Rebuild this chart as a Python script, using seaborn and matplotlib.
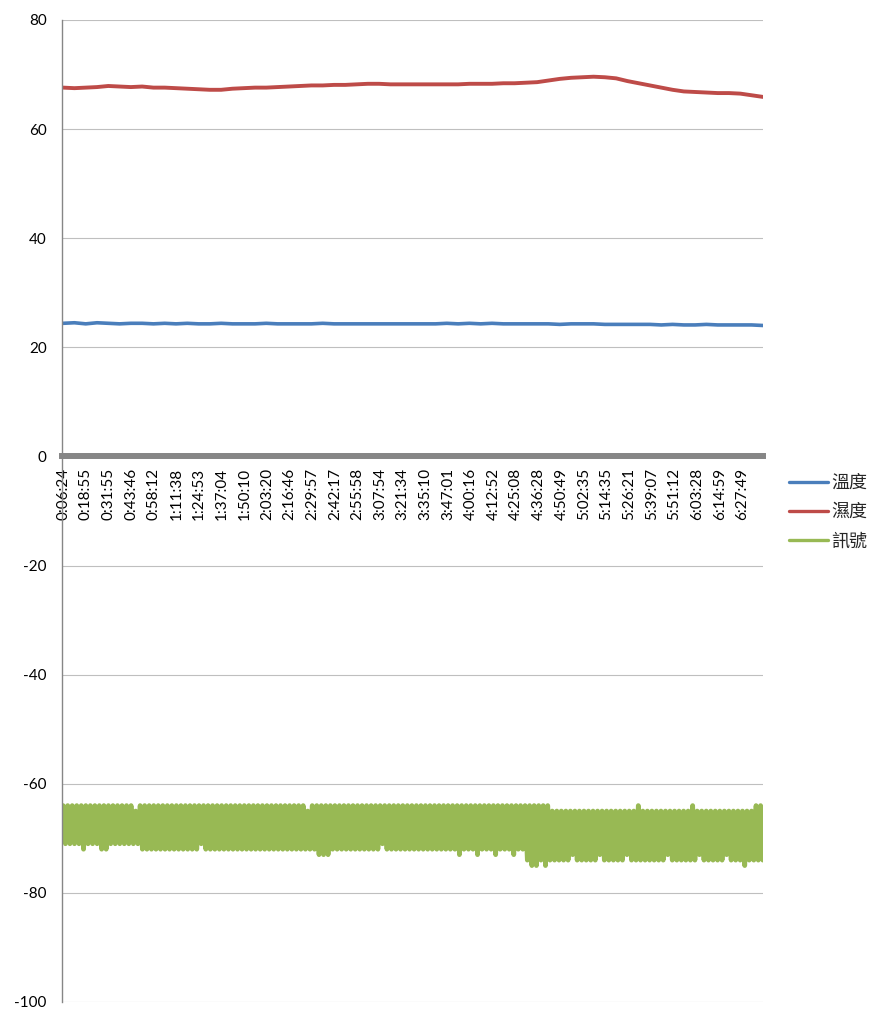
import numpy as np
import pandas as pd
import seaborn as sns
import matplotlib.pyplot as plt

# time labels shown on the category axis
time_labels = ["0:06:24", "0:18:55", "0:31:55", "0:43:46", "0:58:12", "1:11:38",
               "1:24:53", "1:37:04", "1:50:10", "2:03:20", "2:16:46", "2:29:57",
               "2:42:17", "2:55:58", "3:07:54", "3:21:34", "3:35:10", "3:47:01",
               "4:00:16", "4:12:52", "4:25:08", "4:36:28", "4:50:49", "5:02:35",
               "5:14:35", "5:26:21", "5:39:07", "5:51:12", "6:03:28", "6:14:59",
               "6:27:49"]

temperature = [24.4, 24.5, 24.3, 24.5, 24.4, 24.3, 24.4, 24.4, 24.3, 24.4,
               24.3, 24.4, 24.3, 24.3, 24.4, 24.3, 24.3, 24.3, 24.4, 24.3,
               24.3, 24.3, 24.3, 24.4, 24.3, 24.3, 24.3, 24.3, 24.3, 24.3,
               24.3, 24.3, 24.3, 24.3, 24.4, 24.3, 24.4, 24.3, 24.4, 24.3,
               24.3, 24.3, 24.3, 24.3, 24.2, 24.3, 24.3, 24.3, 24.2, 24.2,
               24.2, 24.2, 24.2, 24.1, 24.2, 24.1, 24.1, 24.2, 24.1, 24.1,
               24.1, 24.1, 24.0]

humidity = [67.6, 67.5, 67.6, 67.7, 67.9, 67.8, 67.7, 67.8, 67.6, 67.6,
            67.5, 67.4, 67.3, 67.2, 67.2, 67.4, 67.5, 67.6, 67.6, 67.7,
            67.8, 67.9, 68.0, 68.0, 68.1, 68.1, 68.2, 68.3, 68.3, 68.2,
            68.2, 68.2, 68.2, 68.2, 68.2, 68.2, 68.3, 68.3, 68.3, 68.4,
            68.4, 68.5, 68.6, 68.9, 69.2, 69.4, 69.5, 69.6, 69.5, 69.3,
            68.8, 68.4, 68.0, 67.6, 67.2, 66.9, 66.8, 66.7, 66.6, 66.6,
            66.5, 66.2, 65.9]

# signal swings between a high and a low reading at every sample pair
signal_high = [-64, -64, -64, -64, -64, -64, -64, -64, -64, -64, -64, -64, -64, -64, -64, -64, -65, -64, -64, -64,
               -64, -64, -64, -64, -64, -64, -64, -64, -64, -64, -64, -64, -64, -64, -64, -64, -64, -64, -64, -64,
               -64, -64, -64, -64, -64, -64, -64, -64, -64, -64, -64, -64, -64, -64, -65, -64, -64, -64, -64, -64,
               -64, -64, -64, -64, -64, -64, -64, -64, -64, -64, -64, -64, -64, -64, -64, -64, -64, -64, -64, -64,
               -64, -64, -64, -64, -64, -64, -64, -64, -64, -64, -64, -64, -64, -64, -64, -64, -64, -64, -64, -64,
               -64, -64, -64, -64, -64, -64, -64, -64, -65, -65, -65, -65, -65, -65, -65, -65, -65, -65, -65, -65,
               -65, -65, -65, -65, -65, -65, -65, -64, -65, -65, -65, -65, -65, -65, -65, -65, -65, -65, -65, -64,
               -65, -65, -65, -65, -65, -65, -65, -65, -65, -65, -65, -65, -65, -64, -64]

signal_low = [-71, -71, -71, -71, -72, -71, -71, -71, -72, -72, -71, -71, -71, -71, -71, -71, -71, -72, -72, -72,
              -72, -72, -72, -72, -72, -72, -72, -72, -72, -72, -71, -72, -72, -72, -72, -72, -72, -72, -72, -72,
              -72, -72, -72, -72, -72, -72, -72, -72, -72, -72, -72, -72, -72, -72, -72, -72, -73, -73, -73, -72,
              -72, -72, -72, -72, -72, -72, -72, -72, -72, -72, -71, -72, -72, -72, -72, -72, -72, -72, -72, -72,
              -72, -72, -72, -72, -72, -72, -72, -73, -72, -72, -72, -73, -72, -72, -72, -73, -72, -72, -72, -73,
              -72, -72, -74, -75, -75, -74, -75, -74, -74, -74, -74, -74, -73, -74, -74, -74, -74, -74, -73, -74,
              -74, -74, -74, -74, -73, -74, -74, -74, -74, -74, -74, -74, -74, -73, -74, -74, -74, -74, -74, -74,
              -73, -74, -74, -74, -74, -74, -73, -74, -74, -74, -75, -74, -74, -74, -74]

blue = "#4A7EBB"
red = "#BE4B48"
green = "#98B954"
axis_gray = "#868686"

sns.set_style("white")
plt.rcParams["font.family"] = ["Lato", "Noto Sans CJK TC", "DejaVu Sans"]
plt.rcParams["axes.unicode_minus"] = False

x_end = 30.9
th_df = pd.DataFrame({
    "pos": np.linspace(0, x_end, len(temperature)),
    "temp": temperature,
    "hum": humidity,
})
sig_values = [v for pair in zip(signal_high, signal_low) for v in pair]
sig_df = pd.DataFrame({
    "pos": np.arange(len(sig_values)) * 0.1,
    "sig": sig_values,
})

fig = plt.figure(figsize=(8.86, 10.24), dpi=100)
ax = fig.add_axes([0.070, 0.0215, 0.791, 0.959])

sns.lineplot(data=th_df, x="pos", y="temp", color=blue, linewidth=2.6,
             estimator=None, label="溫度", ax=ax)
sns.lineplot(data=th_df, x="pos", y="hum", color=red, linewidth=2.8,
             estimator=None, label="濕度", ax=ax)
sns.lineplot(data=sig_df, x="pos", y="sig", color=green, linewidth=3.4,
             estimator=None, label="訊號", ax=ax)

# axis line sits at y = 0, move it before the ticks are set
for side in ["top", "right"]:
    ax.spines[side].set_visible(False)
ax.spines["left"].set_color(axis_gray)
ax.spines["left"].set_linewidth(1.0)
ax.spines["bottom"].set_position(("data", 0))
ax.spines["bottom"].set_color(axis_gray)
ax.spines["bottom"].set_linewidth(4.3)
ax.spines["bottom"].set_zorder(1.5)

ax.set_xlim(-0.05, x_end)
ax.set_ylim(-100, 80)
ax.set_yticks(np.arange(-100, 81, 20))
ax.set_xticks(np.arange(len(time_labels)))
ax.set_xticklabels(time_labels, rotation=90, va="top", ha="center")
ax.set_xlabel("")
ax.set_ylabel("")

ax.grid(axis="y", color="#BFBFBF", linewidth=0.8)
ax.grid(axis="x", visible=False)
ax.set_axisbelow(True)

ax.tick_params(axis="y", length=3, width=0.8, color=axis_gray, pad=8,
               labelsize=11, labelcolor="black")
ax.tick_params(axis="x", length=0, pad=8, labelsize=11, labelcolor="black")

leg = ax.legend(loc="center left", bbox_to_anchor=(0.8905, 0.5),
                bbox_transform=fig.transFigure, frameon=False, fontsize=13,
                handlelength=2.15, handletextpad=0.17, labelspacing=0.7,
                borderpad=0, borderaxespad=0)
for line in leg.get_lines():
    line.set_linewidth(2.4)

fig.savefig("out.png", dpi=100, facecolor="white", edgecolor=axis_gray)
